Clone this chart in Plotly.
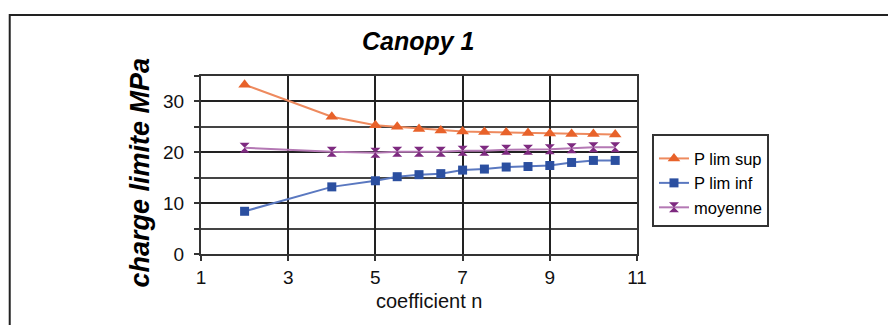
import plotly.graph_objects as go

# ---- data ----
n_values = [2, 4, 5, 5.5, 6, 6.5, 7, 7.5, 8, 8.5, 9, 9.5, 10, 10.5]
p_lim_sup = [33.3, 27.0, 25.3, 25.0, 24.6, 24.3, 24.1, 24.0, 23.9, 23.8, 23.7, 23.6, 23.6, 23.5]
p_lim_inf = [8.4, 13.2, 14.4, 15.2, 15.6, 15.8, 16.5, 16.7, 17.1, 17.2, 17.4, 18.0, 18.4, 18.4]
moyenne = [20.9, 20.1, 19.9, 20.1, 20.1, 20.1, 20.3, 20.3, 20.5, 20.5, 20.6, 20.8, 21.0, 21.0]
series_names = ["P lim sup", "P lim inf", "moyenne"]
x_ticks = [1, 3, 5, 7, 9, 11]
y_ticks = [0, 10, 20, 30]

FONT = "Liberation Sans, Arial, sans-serif"

fig = go.Figure()
fig.add_trace(go.Scatter(
    x=n_values, y=p_lim_sup, name=series_names[0], mode="lines+markers",
    line=dict(color="#EE8A5E", width=2),
    marker=dict(symbol="triangle-up", size=11, color="#E8622A"),
    legendgroup="a"))
fig.add_trace(go.Scatter(
    x=n_values, y=p_lim_inf, name=series_names[1], mode="lines+markers",
    line=dict(color="#5A78C0", width=2),
    marker=dict(symbol="square", size=9, color="#2B4FA0"),
    legendgroup="b"))
fig.add_trace(go.Scatter(
    x=n_values, y=moyenne, name=series_names[2], mode="lines+markers",
    line=dict(color="#B478B4", width=2),
    marker=dict(symbol="hourglass", size=10, color="#7E2A80"),
    legendgroup="c"))

# page body has an 8px default margin: work in page pixels, convert
OFF = 8
PAGE_W, PAGE_H = 896, 325
W, H = PAGE_W - OFF, PAGE_H - OFF
plot_left, plot_right, plot_top, plot_bottom = 200.5, 637, 76, 254  # page px
L = plot_left - OFF
R = PAGE_W - plot_right
T = plot_top - OFF
B = PAGE_H - plot_bottom
pw = W - L - R
ph = H - T - B

def px(xp):
    return (xp - plot_left) / pw

def py(yp):
    return (plot_bottom - yp) / ph

fig.update_layout(
    width=W, height=H,
    margin=dict(l=L, r=R, t=T, b=B, pad=0),
    paper_bgcolor="white", plot_bgcolor="white",
    font=dict(family=FONT, color="#111111"),
    showlegend=True,
    legend=dict(
        x=px(652), y=py(134), xanchor="left", yanchor="top",
        bgcolor="white", bordercolor="#333333", borderwidth=2,
        font=dict(family=FONT, size=16.5, color="#000000"),
        title=dict(text=" ", font=dict(size=4)),
        traceorder="grouped", tracegroupgap=0,
    ),
    xaxis=dict(
        range=[1, 11], tickvals=x_ticks, ticktext=[str(v) for v in x_ticks],
        showgrid=True, gridcolor="#222222", gridwidth=1.6,
        showline=True, linecolor="#333333", linewidth=2, mirror=True,
        ticks="outside", ticklen=5, tickwidth=1.5, tickcolor="#333333",
        tickfont=dict(size=19, family=FONT, color="#111111"),
        zeroline=False, automargin=False,
    ),
    yaxis=dict(
        range=[0, 35], tickvals=y_ticks, ticktext=[str(v) for v in y_ticks],
        showgrid=True, gridcolor="#222222", gridwidth=1.6,
        showline=True, linecolor="#333333", linewidth=2, mirror=True,
        ticks="outside", ticklen=5, tickwidth=1.5, tickcolor="#333333",
        tickfont=dict(size=19, family=FONT, color="#111111"),
        ticklabelstandoff=6,
        minor=dict(dtick=5, tick0=0, showgrid=True, gridcolor="#444444", gridwidth=1.6,
                   ticks="outside", ticklen=5, tickcolor="#333333"),
        zeroline=False, automargin=False,
    ),
    shapes=[dict(type="rect", xref="paper", yref="paper",
                 x0=px(9), x1=px(905), y0=py(340), y1=py(15),
                 line=dict(color="#222222", width=2), layer="below")],
    annotations=[
        dict(text="<b><i>Canopy 1</i></b>", xref="paper", yref="paper",
             x=px(418), y=py(41), xanchor="center", yanchor="middle",
             showarrow=False, font=dict(family=FONT, size=25, color="#000000")),
        dict(text="<b><i>charge limite MPa</i></b>", xref="paper", yref="paper",
             x=px(139), y=py(173), xanchor="center", yanchor="middle", textangle=-90,
             showarrow=False, font=dict(family=FONT, size=27, color="#000000")),
        dict(text="coefficient n", xref="paper", yref="paper",
             x=px(429), y=py(301), xanchor="center", yanchor="middle",
             showarrow=False, font=dict(family=FONT, size=20, color="#111111")),
    ],
)

fig.write_html("out.html")
